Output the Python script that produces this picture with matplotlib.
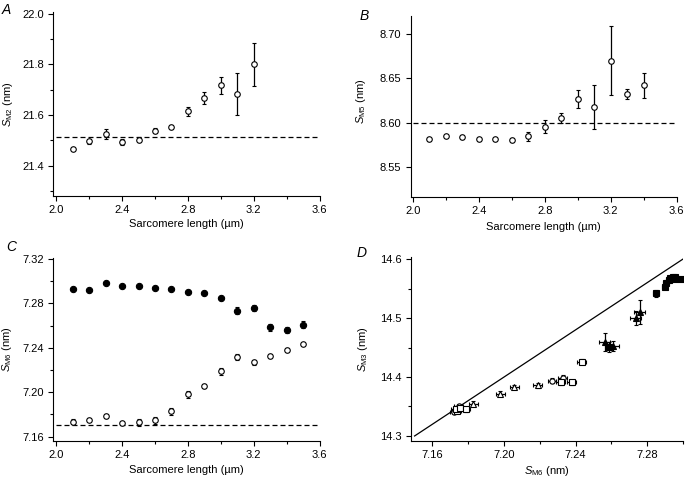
import matplotlib
matplotlib.use('Agg')
import matplotlib.pyplot as plt
import numpy as np

plt.rcParams['font.family'] = ['Liberation Sans', 'DejaVu Sans']
plt.rcParams['mathtext.fontset'] = 'custom'
plt.rcParams['mathtext.rm'] = 'Liberation Sans'
plt.rcParams['mathtext.it'] = 'Liberation Sans:italic'
plt.rcParams['font.size'] = 8

# ---- data -----------------------------------------------------------------
# panel A: S_M2 vs sarcomere length
sl_a = [2.1, 2.2, 2.3, 2.4, 2.5, 2.6, 2.7, 2.8, 2.9, 3.0, 3.1, 3.2]
sm2 = [21.466, 21.496, 21.524, 21.493, 21.502, 21.537, 21.554, 21.614, 21.668, 21.717, 21.682, 21.800]
sm2_err = [0.004, 0.010, 0.020, 0.012, 0.010, 0.010, 0.008, 0.018, 0.024, 0.035, 0.082, 0.084]
sm2_ref = 21.513

# panel B: S_M5 vs sarcomere length
sl_b = [2.1, 2.2, 2.3, 2.4, 2.5, 2.6, 2.7, 2.8, 2.9, 3.0, 3.1, 3.2, 3.3, 3.4]
sm5 = [8.5813, 8.5847, 8.5843, 8.5813, 8.5813, 8.5809, 8.5847, 8.5955, 8.6053, 8.627, 8.618, 8.670, 8.6322, 8.642]
sm5_err = [0.002, 0.001, 0.002, 0.0015, 0.002, 0.002, 0.0053, 0.0073, 0.0056, 0.0098, 0.025, 0.039, 0.006, 0.014]
sm5_ref = 8.600

# panel C: S_M6 vs sarcomere length (filled and open series)
sl_c = [2.1, 2.2, 2.3, 2.4, 2.5, 2.6, 2.7, 2.8, 2.9, 3.0, 3.1, 3.2, 3.3, 3.4, 3.5]
sm6_filled = [7.2928, 7.2919, 7.2987, 7.2955, 7.2955, 7.2942, 7.2930, 7.2906, 7.2897, 7.2849,
              7.2735, 7.2757, 7.2586, 7.2562, 7.2610]
sm6_filled_err = [0.002, 0.0015, 0.0015, 0.0015, 0.0015, 0.0012, 0.0012, 0.0012, 0.0012, 0.0015,
                  0.003, 0.0025, 0.003, 0.003, 0.003]
sm6_open = [7.1735, 7.1753, 7.1786, 7.1723, 7.1729, 7.1747, 7.1828, 7.1980, 7.2056, 7.2187,
            7.2316, 7.2268, 7.2328, 7.2379, 7.2433]
sm6_open_err = [0.002, 0.0015, 0.0015, 0.0012, 0.003, 0.003, 0.003, 0.003, 0.002, 0.003,
                0.003, 0.002, 0.002, 0.002, 0.0008]
sm6_ref = 7.1708

# panel D: S_M3 vs S_M6
d_ocirc_x = [7.1723, 7.1747, 7.2268, 7.2328]
d_ocirc_y = [14.341, 14.350, 14.394, 14.399]
d_osq_x = [7.1735, 7.1729, 7.1753, 7.1786, 7.2316, 7.2379, 7.2433]
d_osq_y = [14.343, 14.345, 14.347, 14.345, 14.391, 14.391, 14.426]
d_otri_x = [7.1828, 7.1980, 7.2056, 7.2187]
d_otri_y = [14.355, 14.372, 14.383, 14.386]
d_ftri_x = [7.2562, 7.2610, 7.2735, 7.2757]
d_ftri_y = [14.459, 14.4525, 14.4995, 14.510]
d_ftri_yerr = [0.0155, 0.008, 0.012, 0.020]
d_fsq_x = [7.2586, 7.2849, 7.2897, 7.2906, 7.2919, 7.2928, 7.2930, 7.2942, 7.2955, 7.2955, 7.2987]
d_fsq_y = [14.451, 14.542, 14.553, 14.560, 14.565, 14.567, 14.568, 14.570, 14.569, 14.567, 14.566]
d_fsq_yerr = [0.009, 0.006, 0.004, 0.004, 0.003, 0.003, 0.003, 0.003, 0.003, 0.003, 0.003]

# ---- figure -----------------------------------------------------------------
W, H = 686, 482
fig = plt.figure(figsize=(W / 100, H / 100), dpi=100)


def px_axes(l, r, t, b):
    return fig.add_axes([l / W, 1 - b / H, (r - l) / W, (b - t) / H])


def style(ax):
    ax.spines['top'].set_visible(False)
    ax.spines['right'].set_visible(False)
    for s in ('left', 'bottom'):
        ax.spines[s].set_linewidth(0.8)
    ax.tick_params(which='major', direction='out', length=3.5, width=0.8, labelsize=8, pad=3)
    ax.tick_params(which='minor', direction='out', length=2.5, width=0.8)


ebkw = dict(fmt='o', color='black', ecolor='black', elinewidth=0.9, capsize=1.6, capthick=0.9,
            markersize=4, markeredgewidth=0.8, zorder=3)
dash = (0, (4, 2.4))
sl_label = 'Sarcomere length (\u00b5m)'

# Panel A
axA = px_axes(53, 319.5, 12.5, 196)
style(axA)
axA.hlines(sm2_ref, 2.0, 3.6, colors='black', linestyles=dash, linewidth=0.9)
axA.errorbar(sl_a, sm2, yerr=sm2_err, markerfacecolor='white', **ebkw)
axA.set_xlim(1.98, 3.6)
axA.set_ylim(21.28, 22.005)
axA.set_xticks([2.0, 2.4, 2.8, 3.2, 3.6])
axA.set_xticks([2.2, 2.6, 3.0, 3.4], minor=True)
axA.set_yticks([21.4, 21.6, 21.8, 22.0])
axA.set_yticks([21.3, 21.5, 21.7, 21.9], minor=True)
axA.set_xticklabels(['2.0', '2.4', '2.8', '3.2', '3.6'])
axA.set_yticklabels(['21.4', '21.6', '21.8', '22.0'])
axA.set_xlabel(sl_label, fontsize=8)
axA.set_ylabel(r'$\mathit{S}_{\mathrm{M2}}$ (nm)', fontsize=8)
axA.xaxis.set_label_coords(0.5, -0.125)
axA.yaxis.set_label_coords(-0.143, 0.5)

# Panel B
axB = px_axes(410.5, 676.5, 16, 196.7)
style(axB)
axB.hlines(sm5_ref, 2.0, 3.6, colors='black', linestyles=dash, linewidth=0.9)
axB.errorbar(sl_b, sm5, yerr=sm5_err, markerfacecolor='white', **ebkw)
axB.set_xlim(1.985, 3.6)
axB.set_ylim(8.517, 8.72)
axB.set_xticks([2.0, 2.4, 2.8, 3.2, 3.6])
axB.set_xticks([2.2, 2.6, 3.0, 3.4], minor=True)
axB.set_yticks([8.55, 8.60, 8.65, 8.70])
axB.set_xticklabels(['2.0', '2.4', '2.8', '3.2', '3.6'])
axB.set_yticklabels(['8.55', '8.60', '8.65', '8.70'])
axB.set_xlabel(sl_label, fontsize=8)
axB.set_ylabel(r'$\mathit{S}_{\mathrm{M5}}$ (nm)', fontsize=8)
axB.xaxis.set_label_coords(0.5, -0.14)
axB.yaxis.set_label_coords(-0.16, 0.53)

# Panel C
axC = px_axes(53, 319.5, 258, 441)
style(axC)
axC.hlines(sm6_ref, 2.0, 3.6, colors='black', linestyles=dash, linewidth=0.9)
axC.errorbar(sl_c, sm6_filled, yerr=sm6_filled_err, markerfacecolor='black',
             **{**ebkw, 'markersize': 4.5})
axC.errorbar(sl_c, sm6_open, yerr=sm6_open_err, markerfacecolor='white', **ebkw)
axC.set_xlim(1.98, 3.6)
axC.set_ylim(7.156, 7.321)
axC.set_xticks([2.0, 2.4, 2.8, 3.2, 3.6])
axC.set_xticks([2.2, 2.6, 3.0, 3.4], minor=True)
axC.set_yticks([7.16, 7.20, 7.24, 7.28, 7.32])
axC.set_yticks([7.18, 7.22, 7.26, 7.30], minor=True)
axC.set_xticklabels(['2.0', '2.4', '2.8', '3.2', '3.6'])
axC.set_yticklabels(['7.16', '7.20', '7.24', '7.28', '7.32'])
axC.set_xlabel(sl_label, fontsize=8)
axC.set_ylabel(r'$\mathit{S}_{\mathrm{M6}}$ (nm)', fontsize=8)
axC.xaxis.set_label_coords(0.5, -0.13)
axC.yaxis.set_label_coords(-0.147, 0.5)

# Panel D
axD = px_axes(411, 683, 256.7, 440.7)
style(axD)
lx = np.array([7.15, 7.30])
axD.plot(lx, 2 * lx, color='black', linewidth=0.9)
dkw = dict(color='black', ecolor='black', elinewidth=0.9, capsize=1.3, capthick=0.9,
           markersize=3.8, markeredgewidth=0.8, linestyle='none', zorder=3)
axD.errorbar(d_ocirc_x, d_ocirc_y, xerr=0.0025, yerr=0.004, marker='o', markerfacecolor='white', **dkw)
axD.errorbar(d_osq_x, d_osq_y, xerr=0.0025, yerr=0.004, marker='s', markerfacecolor='white', **dkw)
axD.errorbar(d_otri_x, d_otri_y, xerr=0.0025, yerr=0.004, marker='^', markerfacecolor='white', **dkw)
axD.errorbar(d_ftri_x, d_ftri_y, xerr=0.003, yerr=d_ftri_yerr, marker='^', markerfacecolor='black', **dkw)
axD.errorbar(d_fsq_x, d_fsq_y, xerr=0.0015, yerr=d_fsq_yerr, marker='s', markerfacecolor='black', **dkw)
axD.set_xlim(7.148, 7.30)
axD.set_ylim(14.292, 14.604)
axD.set_xticks([7.16, 7.20, 7.24, 7.28])
axD.set_xticks([7.18, 7.22, 7.26, 7.30], minor=True)
axD.set_yticks([14.3, 14.4, 14.5, 14.6])
axD.set_yticks([14.35, 14.45, 14.55], minor=True)
axD.set_xticklabels(['7.16', '7.20', '7.24', '7.28'])
axD.set_yticklabels(['14.3', '14.4', '14.5', '14.6'])
axD.set_xlabel(r'$\mathit{S}_{\mathrm{M6}}$ (nm)', fontsize=8)
axD.set_ylabel(r'$\mathit{S}_{\mathrm{M3}}$ (nm)', fontsize=8)
axD.xaxis.set_label_coords(0.5, -0.125)
axD.yaxis.set_label_coords(-0.151, 0.5)

# panel letters
for lab, x, y in [('A', 6, 10), ('B', 364, 16), ('C', 11, 247), ('D', 362, 253)]:
    fig.text(x / W, 1 - y / H, lab, fontsize=10, style='italic', ha='center', va='center')

fig.savefig('out.png', dpi=100)
